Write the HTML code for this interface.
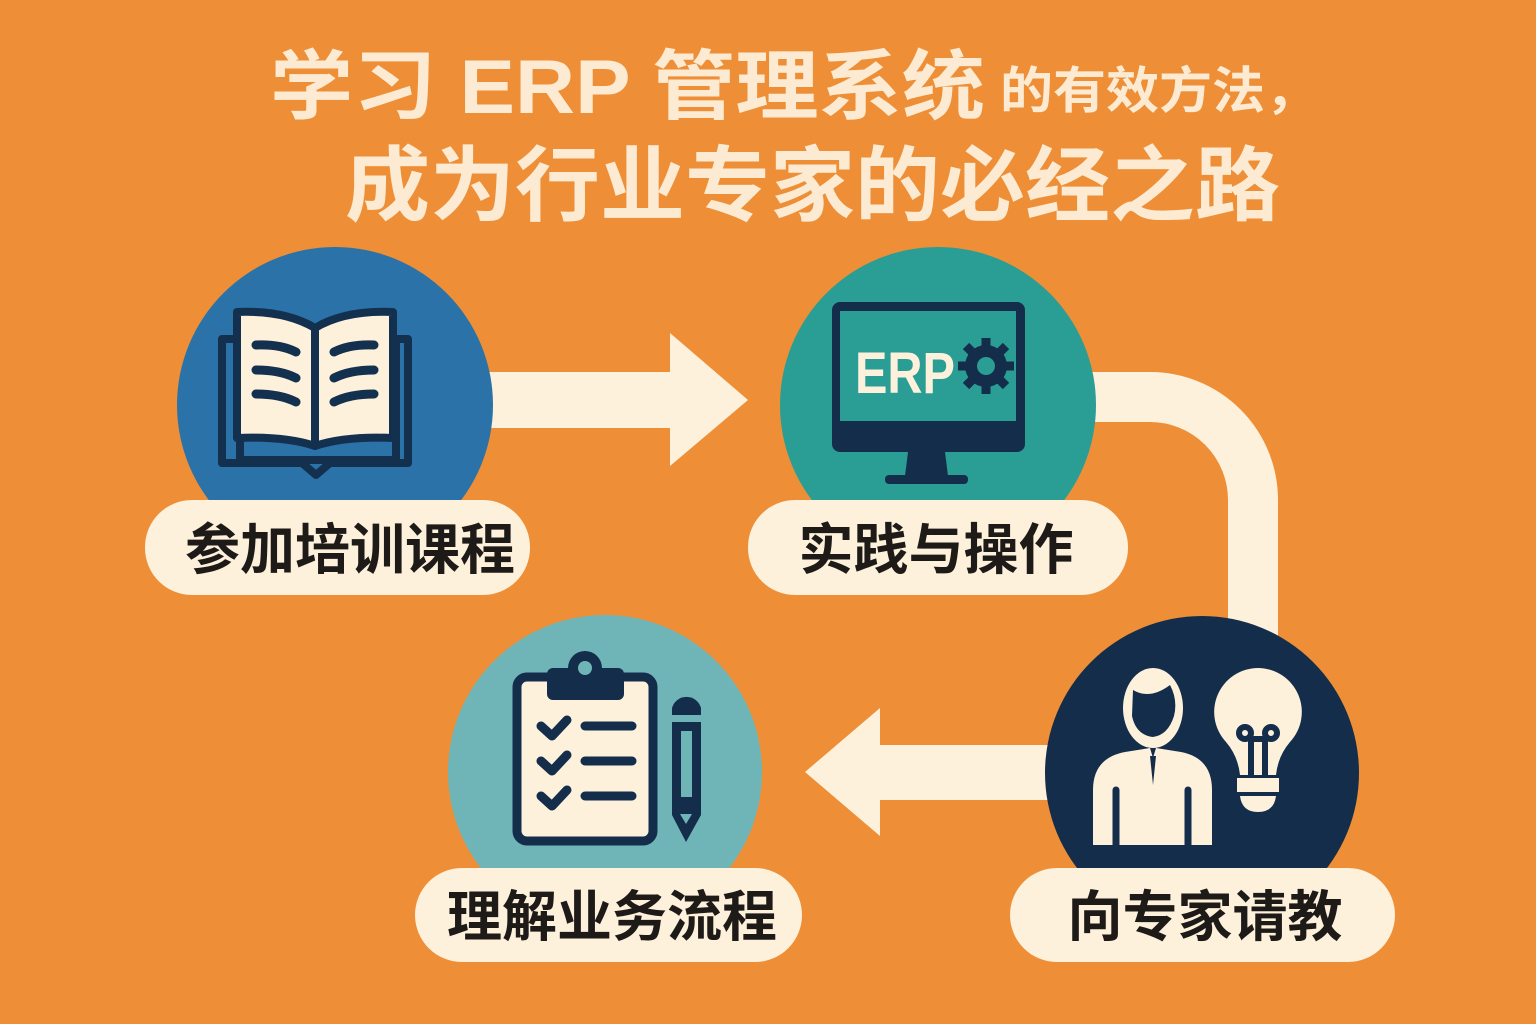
<!DOCTYPE html>
<html><head><meta charset="utf-8"><style>
html,body{margin:0;padding:0;background:#EE8F37;}
svg{display:block}
text{font-family:"Liberation Sans","Noto Sans CJK SC",sans-serif;font-weight:bold}
</style></head><body>
<svg width="1536" height="1024" viewBox="0 0 1536 1024" xmlns="http://www.w3.org/2000/svg">
<rect width="1536" height="1024" fill="#EE8F37"/>
<!-- title -->
<text x="270" y="113" font-size="76" fill="#FCEBD2" textLength="715" lengthAdjust="spacingAndGlyphs">学习 ERP 管理系统</text>
<text x="1000" y="108" font-size="50" fill="#FCEBD2" textLength="318" lengthAdjust="spacingAndGlyphs">的有效方法，</text>
<text x="345" y="214" font-size="82" fill="#FCEBD2" textLength="935" lengthAdjust="spacingAndGlyphs">成为行业专家的必经之路</text>

<!-- connectors -->
<polygon points="488,372 670,372 670,333 748,400 670,466 670,428 488,428" fill="#FDF1DC"/>
<path d="M1085 397 H1150 A103 103 0 0 1 1253 500 V650" fill="none" stroke="#FDF1DC" stroke-width="50"/>
<polygon points="1060,745 880,745 880,708 805,772 880,836 880,800 1060,800" fill="#FDF1DC"/>

<!-- circles -->
<circle cx="335" cy="405" r="158" fill="#2A72A8"/>
<circle cx="938" cy="405" r="158" fill="#2A9D94"/>
<circle cx="1202" cy="773" r="157" fill="#132D4B"/>
<circle cx="605" cy="772" r="157" fill="#6FB5B8"/>

<!-- book -->
<g stroke="#13304F" stroke-width="8" stroke-linejoin="round" stroke-linecap="round">
<path d="M222 339 H240 V460 H396 V339 H408 V463 H330 L316 475 L302 463 H222 Z" fill="#2A72A8"/>
<path d="M237 312 Q285 310 315 328 V446 Q285 436 237 438 Z" fill="#FDF1DC"/>
<path d="M393 312 Q345 310 315 328 V446 Q345 436 393 438 Z" fill="#FDF1DC"/>
<g fill="none" stroke-width="9">
<path d="M256 345 Q280 344 296 352 M256 370 Q280 370 296 378 M256 394 Q280 394 296 402"/>
<path d="M334 352 Q350 344 374 345 M334 378 Q350 370 374 370 M334 402 Q350 394 374 394"/>
</g></g>

<!-- monitor -->
<rect x="832" y="302" width="193" height="150" rx="8" fill="#132D4B"/>
<rect x="840" y="311" width="176" height="110" fill="#2A9D94"/>
<polygon points="908,452 945,452 948,476 905,476" fill="#132D4B"/>
<rect x="885" y="475" width="83" height="9" rx="4" fill="#132D4B"/>
<text x="855" y="393" font-size="58" fill="#FDF1DC" textLength="100" lengthAdjust="spacingAndGlyphs">ERP</text>
<g fill="#132D4B">
<circle cx="986" cy="366" r="21"/>
<g stroke="#132D4B" stroke-width="9">
<line x1="986" y1="338" x2="986" y2="394"/><line x1="958" y1="366" x2="1014" y2="366"/>
<line x1="966" y1="346" x2="1006" y2="386"/><line x1="1006" y1="346" x2="966" y2="386"/></g>
<circle cx="986" cy="366" r="9" fill="#2A9D94"/></g>

<!-- person & bulb -->
<ellipse cx="1153" cy="708" rx="30" ry="40" fill="#FDF1DC"/>
<path d="M1133 690 Q1150 700 1170 685 Q1178 700 1174 716 Q1168 735 1153 737 Q1136 735 1132 716 Z" fill="#132D4B"/>
<path d="M1093 845 V790 Q1093 758 1125 752 L1150 748 L1153 758 L1156 748 L1181 752 Q1212 758 1212 790 V845 Z" fill="#FDF1DC"/>
<path d="M1150 756 L1153 785 L1156 756 Z" fill="#132D4B"/>
<line x1="1116" y1="790" x2="1116" y2="845" stroke="#132D4B" stroke-width="7" stroke-linecap="round"/>
<line x1="1188" y1="790" x2="1188" y2="845" stroke="#132D4B" stroke-width="7" stroke-linecap="round"/>
<path d="M1258 668 A44 44 0 0 1 1290 742 Q1278 756 1276 775 H1240 Q1238 756 1226 742 A44 44 0 0 1 1258 668 Z" fill="#FDF1DC"/>
<rect x="1237" y="778" width="42" height="14" fill="#FDF1DC"/>
<path d="M1240 796 H1276 Q1274 812 1258 812 Q1242 812 1240 796 Z" fill="#FDF1DC"/>
<g stroke="#132D4B" stroke-width="6" fill="none">
<circle cx="1245" cy="733" r="6"/><circle cx="1271" cy="733" r="6"/>
<line x1="1251" y1="738" x2="1251" y2="775"/><line x1="1265" y1="738" x2="1265" y2="775"/><line x1="1251" y1="739" x2="1265" y2="739"/></g>

<!-- clipboard -->
<rect x="517" y="677" width="136" height="164" rx="10" fill="#FDF1DC" stroke="#132D4B" stroke-width="9"/>
<rect x="547" y="668" width="77" height="32" rx="6" fill="#132D4B"/>
<circle cx="585" cy="668" r="17" fill="#132D4B"/>
<circle cx="585" cy="668" r="7" fill="#6FB5B8"/>
<g stroke="#132D4B" stroke-width="9" stroke-linecap="round" stroke-linejoin="round" fill="none">
<path d="M541 726 L552 736 L567 720 M541 761 L552 771 L567 755 M541 796 L552 806 L567 790"/>
<path d="M585 726 H632 M585 761 H632 M585 796 H632"/></g>
<path d="M672 708 A15 15 0 0 1 701 708 V715 H672 Z" fill="#132D4B"/>
<path d="M672 722 H701 V815 L686 842 L672 815 Z" fill="#132D4B"/>
<rect x="681" y="731" width="11" height="66" fill="#6FB5B8"/>
<polygon points="680,814 692,814 686,824" fill="#6FB5B8"/>

<!-- label pills -->
<rect x="145" y="500" width="385" height="95" rx="47" fill="#FDF1DC"/>
<rect x="748" y="500" width="380" height="95" rx="47" fill="#FDF1DC"/>
<rect x="415" y="868" width="387" height="94" rx="47" fill="#FDF1DC"/>
<rect x="1010" y="868" width="385" height="94" rx="47" fill="#FDF1DC"/>
<g font-size="55" fill="#1E1A18" text-anchor="middle">
<text x="350" y="569">参加培训课程</text>
<text x="936" y="569">实践与操作</text>
<text x="612" y="936">理解业务流程</text>
<text x="1205" y="936">向专家请教</text>
</g>
</svg>
</body></html>
